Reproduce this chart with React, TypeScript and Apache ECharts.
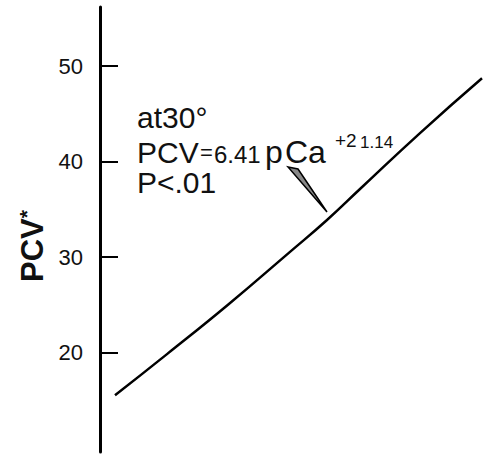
import React, { useEffect, useRef } from "react";
import * as echarts from "echarts";

// Horizontal position along the (unlabelled) pCa axis
const pcaPos = [15, 67, 128, 190, 227, 260, 320, 382];
// PCV values along the fitted curve
const pcvValues = [15.54, 19.85, 25.02, 30.56, 33.9, 37.14, 43.0, 48.74];
// Tick labels on the PCV axis
const pcvTicks = [20, 30, 40, 50];

const FONT = "'Liberation Sans', Arial, Helvetica, sans-serif";

export default function App() {
  const ref = useRef<HTMLDivElement>(null);

  useEffect(() => {
    if (!ref.current) return;
    const chart = echarts.init(ref.current, undefined, { renderer: "svg" });

    const txt = (text: string, x: number, y: number, size: number, extra: any = {}) => ({
      type: "text",
      x,
      y,
      style: {
        text,
        fontFamily: FONT,
        fontSize: size,
        fill: "#111",
        align: "left",
        verticalAlign: "middle",
        ...extra,
      },
    });

    chart.setOption({
      animation: false,
      backgroundColor: "#fff",
      grid: { left: 100, right: 12, top: 7, height: 445 },
      xAxis: {
        type: "value",
        min: 0,
        max: 382,
        show: false,
      },
      yAxis: {
        type: "value",
        min: 9.6,
        max: 56.2,
        axisLine: { show: true, lineStyle: { color: "#000", width: 3 } },
        axisTick: {
          show: true,
          inside: true,
          length: 18,
          customValues: pcvTicks,
          lineStyle: { color: "#000", width: 2 },
        },
        axisLabel: {
          customValues: pcvTicks,
          fontFamily: FONT,
          fontSize: 22,
          color: "#111",
          margin: 17,
        },
        splitLine: { show: false },
      },
      series: [
        {
          type: "line",
          data: pcaPos.map((x, i) => [x, pcvValues[i]]),
          symbol: "none",
          smooth: 0.5,
          lineStyle: { color: "#000", width: 2.5 },
        },
      ],
      graphic: [
        {
          type: "text",
          x: 32,
          y: 246,
          rotation: Math.PI / 2,
          style: {
            text: "{m|PCV}{s|*}",
            align: "center",
            verticalAlign: "middle",
            rich: {
              m: { fontFamily: FONT, fontSize: 31, fontWeight: "bold", fill: "#111" },
              s: { fontFamily: FONT, fontSize: 21, fontWeight: "bold", fill: "#111", verticalAlign: "top", padding: [0, 0, 12, 0] },
            },
          },
        },
        txt("at30°", 137, 117.6, 30),
        txt("PCV", 137, 152.6, 30),
        txt("=", 200, 152, 22),
        txt("6.41", 214, 154.5, 24),
        txt("p", 265, 152, 32),
        txt("Ca", 285, 152, 32),
        txt("+2", 335, 140, 19),
        txt("1.14", 360, 142, 17),
        txt("P<.01", 137, 182.6, 30),
        {
          type: "polygon",
          shape: { points: [[288, 167], [298, 169], [327, 212]] },
          style: { fill: "#888", stroke: "#000", lineWidth: 1.5 },
        },
      ],
    });

    return () => chart.dispose();
  }, []);

  return (
    <div
      ref={ref}
      style={{ position: "fixed", left: 0, top: 0, width: 494, height: 466 }}
    />
  );
}
